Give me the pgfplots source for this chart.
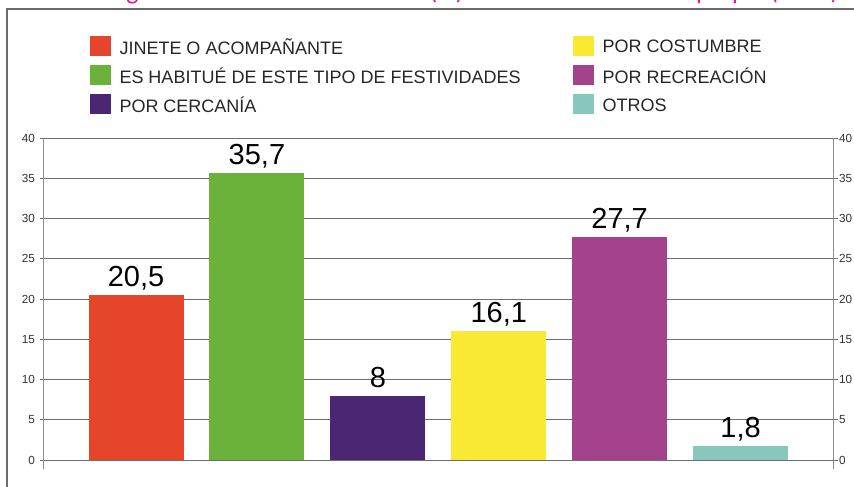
\documentclass[border=0pt]{standalone}
\usepackage{pgfplots}
\pgfplotsset{compat=1.18}
\usepackage{fontspec}
\setmainfont{Liberation Sans}
\newfontfamily\titlefont{Carlito}
\definecolor{cRed}{HTML}{E5452A}
\definecolor{cGreen}{HTML}{6BB23B}
\definecolor{cPurple}{HTML}{4B2672}
\definecolor{cYellow}{HTML}{F9E934}
\definecolor{cMagenta}{HTML}{A4428B}
\definecolor{cTeal}{HTML}{88C8BC}
\definecolor{cGrid}{HTML}{6E6E6E}
\definecolor{cAxis}{HTML}{8C8C8C}
\definecolor{cFrame}{HTML}{6A6A6A}
\definecolor{cTick}{HTML}{333333}
\definecolor{cTitle}{HTML}{E8178A}
\pgfplotsset{sq/.style={legend image code/.code={\fill[#1] (0pt,-6.4pt) rectangle (15.75pt,8.6pt);}}}
\begin{document}
\begin{tikzpicture}[x=0.75pt,y=0.75pt]
\fill[white] (0,0) rectangle (854,486);
\begin{scope}
\clip (0,0) rectangle (854,486);
\node[overlay, anchor=base east, text=cTitle, inner sep=0pt, font=\titlefont\fontsize{19.5}{24}\selectfont] at (839,486.5) {Figura 4. Motivo de asistencia (\%). Fuente: elaboración propia (2015)};
\draw[overlay, cFrame, line width=1.5pt] (6.5,-10) -- (6.5,476.5) -- (870,476.5);
\end{scope}
\begin{scope}[overlay]
\begin{axis}[
  at={(36,21)}, anchor=south west,
  scale only axis, width=592.5pt, height=248.25pt,
  xmin=-0.765, xmax=5.769, ymin=-1.1, ymax=40,
  hide x axis,
  axis y line*=left,
  ytick={0,5,...,40},
  ymajorgrids,
  grid style={cGrid, line width=0.75pt},
  tick align=outside, major tick length=3pt,
  ytick style={cGrid, line width=0.75pt},
  axis line style={cAxis, line width=1.1pt},
  yticklabel style={font=\fontsize{8.8}{10}\selectfont, text=cTick},
  /pgf/number format/assume math mode=true,
  every node near coord/.append style={font=\fontsize{21.75}{24}\selectfont, inner sep=0pt, text depth=0pt, yshift=6pt, text=black},
  legend columns=2,
  legend cell align=left,
  legend style={draw=none, fill=none, inner sep=0pt, outer sep=0pt, at={(0.0582,1.308)}, anchor=north west, font=\fontsize{13.5}{16}\selectfont, text=black!85, row sep=6.6pt, nodes={inner sep=0pt}, /tikz/every odd column/.append style={column sep=6.75pt}, /tikz/every even column/.append style={column sep=39pt}},
]
\addplot[ybar, bar width=71.25pt, bar shift=0pt, fill=cRed, draw=none, sq=cRed, nodes near coords={20{,}5}] coordinates {(0,20.5)};
\addlegendentry{JINETE O ACOMPAÑANTE}
\addplot[ybar, bar width=71.25pt, bar shift=0pt, fill=cYellow, draw=none, sq=cYellow, nodes near coords={16{,}1}] coordinates {(3,16.1)};
\addlegendentry{POR COSTUMBRE}
\addplot[ybar, bar width=71.25pt, bar shift=0pt, fill=cGreen, draw=none, sq=cGreen, nodes near coords={35{,}7}] coordinates {(1,35.7)};
\addlegendentry{ES HABITUÉ DE ESTE TIPO DE FESTIVIDADES}
\addplot[ybar, bar width=71.25pt, bar shift=0pt, fill=cMagenta, draw=none, sq=cMagenta, nodes near coords={27{,}7}] coordinates {(4,27.7)};
\addlegendentry{POR RECREACIÓN}
\addplot[ybar, bar width=71.25pt, bar shift=0pt, fill=cPurple, draw=none, sq=cPurple, nodes near coords={8}] coordinates {(2,8)};
\addlegendentry{POR CERCANÍA}
\addplot[ybar, bar width=71.25pt, bar shift=0pt, fill=cTeal, draw=none, sq=cTeal, nodes near coords={1{,}8}] coordinates {(5,1.8)};
\addlegendentry{OTROS}
\end{axis}
\begin{axis}[
  at={(36,21)}, anchor=south west,
  scale only axis, width=592.5pt, height=248.25pt,
  xmin=-0.765, xmax=5.769, ymin=-1.1, ymax=40,
  hide x axis,
  axis y line*=right,
  ytick={0,5,...,40},
  tick align=outside, major tick length=3pt,
  ytick style={cGrid, line width=0.75pt},
  axis line style={cAxis, line width=1.1pt},
  yticklabel style={font=\fontsize{8.8}{10}\selectfont, text=cTick, inner sep=1pt},
  /pgf/number format/assume math mode=true,
]
\end{axis}
\end{scope}
\end{tikzpicture}
\end{document}
